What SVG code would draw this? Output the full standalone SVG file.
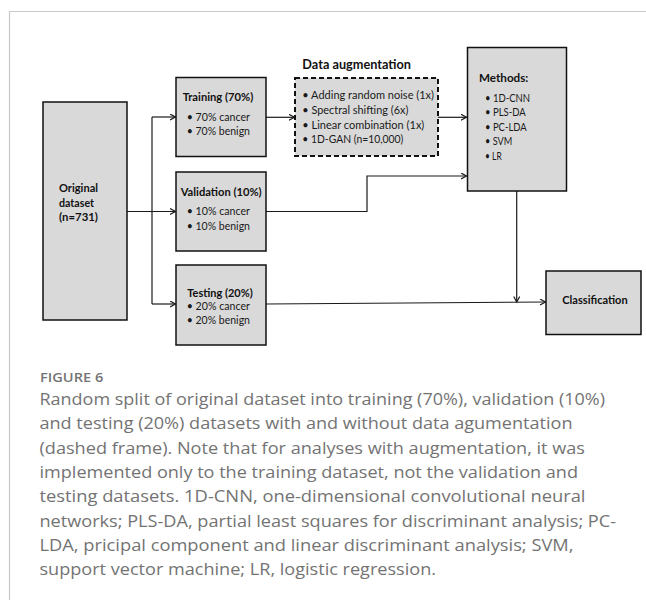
<svg xmlns="http://www.w3.org/2000/svg" width="646" height="600" viewBox="0 0 646 600">
<defs>
<marker id="arr" markerWidth="8" markerHeight="8" refX="6" refY="3.5" orient="auto" markerUnits="userSpaceOnUse">
<path d="M0.5,0.5 L6,3.5 L0.5,6.5" fill="none" stroke="#1a1a1a" stroke-width="1.2"/>
</marker>
</defs>
<style>
.box{fill:#d9d9d9;stroke:#111;stroke-width:1.5}
.dash{fill:#d9d9d9;stroke:#111;stroke-width:2;stroke-dasharray:5,3}
.t{font-family:Lato,"Liberation Sans",sans-serif;font-size:11.5px;fill:#1a1a1a}
.b{font-family:Lato,"Liberation Sans",sans-serif;font-size:11.5px;font-weight:bold;fill:#111}
.c{stroke:#1a1a1a;stroke-width:1.2;fill:none}
.cap{font-family:"Open Sans","Liberation Sans",sans-serif;font-size:16px;fill:#737373}
.fig{font-family:"Open Sans","Liberation Sans",sans-serif;font-size:12px;font-weight:600;fill:#747474}
</style>
<rect width="646" height="600" fill="#fff"/>
<path d="M9.5,600 V11.5 H646" fill="none" stroke="#c8c8c8" stroke-width="1.2"/>

<g id="connectors">
<path class="c" d="M127,211.5 H175.5" marker-end="url(#arr)"/>
<path class="c" d="M152,117 V304"/>
<path class="c" d="M152,117 H175.5" marker-end="url(#arr)"/>
<path class="c" d="M152,304 H175.5" marker-end="url(#arr)"/>
<path class="c" d="M266,117.3 H294.5" marker-end="url(#arr)"/>
<path class="c" d="M438,117.3 H466.5" marker-end="url(#arr)"/>
<path class="c" d="M266,211.5 H367 V176 H466.5" marker-end="url(#arr)"/>
<path class="c" d="M516.7,191 V302" marker-end="url(#arr)"/>
<path class="c" d="M266,304 L545.5,302" marker-end="url(#arr)"/>
</g>

<g id="original">
<rect class="box" x="43" y="102" width="84" height="218"/>
<text class="b" x="59" y="192" textLength="39" lengthAdjust="spacingAndGlyphs">Original</text>
<text class="b" x="59" y="206.5" textLength="35" lengthAdjust="spacingAndGlyphs">dataset</text>
<text class="b" x="59" y="221" textLength="39" lengthAdjust="spacingAndGlyphs">(n=731)</text>
</g>

<g id="training">
<rect class="box" x="176" y="77.5" width="90" height="79"/>
<text class="b" x="182.7" y="100.7" textLength="70.6" lengthAdjust="spacingAndGlyphs">Training (70%)</text>
<text class="t" x="186.7" y="120.5" textLength="63.3" lengthAdjust="spacingAndGlyphs">• 70% cancer</text>
<text class="t" x="186.7" y="134.5" textLength="63.3" lengthAdjust="spacingAndGlyphs">• 70% benign</text>
</g>

<g id="validation">
<rect class="box" x="176" y="172" width="90" height="79"/>
<text class="b" x="180.7" y="196" textLength="81" lengthAdjust="spacingAndGlyphs">Validation (10%)</text>
<text class="t" x="186.7" y="215.3" textLength="63.3" lengthAdjust="spacingAndGlyphs">• 10% cancer</text>
<text class="t" x="186.7" y="230" textLength="63.3" lengthAdjust="spacingAndGlyphs">• 10% benign</text>
</g>

<g id="testing">
<rect class="box" x="176" y="265" width="90" height="80"/>
<text class="b" x="187.3" y="296.7" textLength="65.4" lengthAdjust="spacingAndGlyphs">Testing (20%)</text>
<text class="t" x="186.7" y="309.5" textLength="63.3" lengthAdjust="spacingAndGlyphs">• 20% cancer</text>
<text class="t" x="186.7" y="323.5" textLength="63.3" lengthAdjust="spacingAndGlyphs">• 20% benign</text>
</g>

<g id="augmentation">
<text class="b" x="302.3" y="68.5" textLength="108.7" lengthAdjust="spacingAndGlyphs" style="font-size:12.5px">Data augmentation</text>
<rect class="dash" x="295" y="78" width="143" height="78"/>
<text class="t" x="302.3" y="99" textLength="131.7" lengthAdjust="spacingAndGlyphs">• Adding random noise (1x)</text>
<text class="t" x="302.3" y="114" textLength="106" lengthAdjust="spacingAndGlyphs">• Spectral shifting (6x)</text>
<text class="t" x="302.3" y="128.5" textLength="122" lengthAdjust="spacingAndGlyphs">• Linear combination (1x)</text>
<text class="t" x="302.3" y="143.3" textLength="101" lengthAdjust="spacingAndGlyphs">• 1D-GAN (n=10,000)</text>
</g>

<g id="methods">
<rect class="box" x="467.5" y="47.5" width="99" height="143.5"/>
<text class="b" x="479" y="81.7" textLength="49.3" lengthAdjust="spacingAndGlyphs">Methods:</text>
<text class="t" x="485" y="101.7" textLength="45" lengthAdjust="spacingAndGlyphs">• 1D-CNN</text>
<text class="t" x="485" y="116" textLength="40.7" lengthAdjust="spacingAndGlyphs">• PLS-DA</text>
<text class="t" x="485" y="130.7" textLength="41.7" lengthAdjust="spacingAndGlyphs">• PC-LDA</text>
<text class="t" x="485" y="145" textLength="27.3" lengthAdjust="spacingAndGlyphs">• SVM</text>
<text class="t" x="485" y="160" textLength="16.7" lengthAdjust="spacingAndGlyphs">• LR</text>
</g>

<g id="classification">
<rect class="box" x="546" y="271" width="95" height="63.5"/>
<text class="b" x="562.3" y="304" textLength="65.4" lengthAdjust="spacingAndGlyphs">Classification</text>
</g>

<g id="caption">
<text class="fig" x="40" y="382" textLength="63.3" lengthAdjust="spacingAndGlyphs">FIGURE 6</text>
<text class="cap" x="39.5" y="405" textLength="565.5" lengthAdjust="spacingAndGlyphs">Random split of original dataset into training (70%), validation (10%)</text>
<text class="cap" x="39.5" y="429.3" textLength="533" lengthAdjust="spacingAndGlyphs">and testing (20%) datasets with and without data agumentation</text>
<text class="cap" x="39.5" y="453.6" textLength="545.5" lengthAdjust="spacingAndGlyphs">(dashed frame). Note that for analyses with augmentation, it was</text>
<text class="cap" x="39.5" y="477.9" textLength="538.5" lengthAdjust="spacingAndGlyphs">implemented only to the training dataset, not the validation and</text>
<text class="cap" x="39.5" y="502.2" textLength="546" lengthAdjust="spacingAndGlyphs">testing datasets. 1D-CNN, one-dimensional convolutional neural</text>
<text class="cap" x="39.5" y="526.5" textLength="576.5" lengthAdjust="spacingAndGlyphs">networks; PLS-DA, partial least squares for discriminant analysis; PC-</text>
<text class="cap" x="39.5" y="550.8" textLength="534" lengthAdjust="spacingAndGlyphs">LDA, pricipal component and linear discriminant analysis; SVM,</text>
<text class="cap" x="39.5" y="575.1" textLength="396.5" lengthAdjust="spacingAndGlyphs">support vector machine; LR, logistic regression.</text>
</g>
</svg>
